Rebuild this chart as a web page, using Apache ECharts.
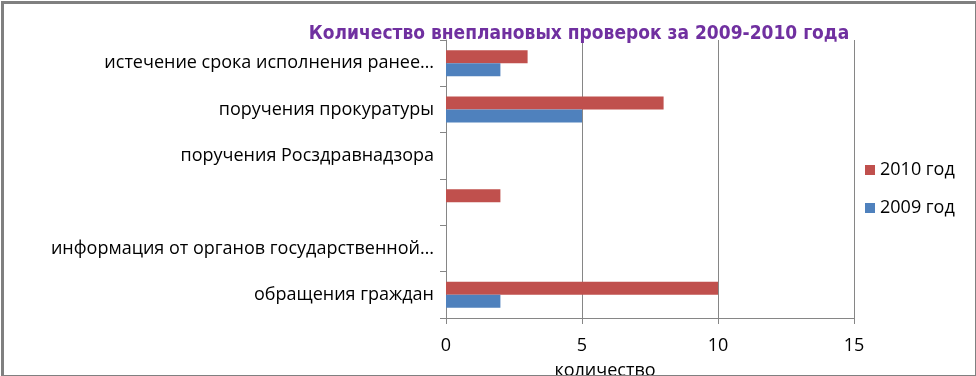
<!DOCTYPE html>
<html>
<head>
<meta charset="utf-8">
<script src="https://cdn.jsdelivr.net/npm/echarts@6/dist/echarts.min.js"></script>
<style>
  html, body { margin: 0; padding: 0; background: #fff; }
  #chart { width: 976px; height: 376px; }
</style>
</head>
<body>
<div id="chart"></div>
<script>
// категории снизу вверх, как на оси
let categories = [
  "обращения граждан",
  "информация от органов государственной…",
  "",
  "поручения Росздравнадзора",
  "поручения прокуратуры",
  "истечение срока исполнения ранее…",
];
let values2009 = [2, 0, 0, 0, 5, 2];
let values2010 = [10, 0, 2, 0, 8, 3];
let xTicks = { min: 0, max: 15, interval: 5 };

let font = "Open Sans";
let gridColor = "#868686";

let chart = echarts.init(document.getElementById("chart"));

let option = {
  animation: false,
  backgroundColor: "#fff",
  title: {
    text: "Количество внеплановых проверок за 2009-2010 года",
    left: 574,
    textAlign: "center",
    top: 20,
    textStyle: {
      color: "#7030A0",
      fontFamily: "DejaVu Sans Condensed",
      fontWeight: "bold",
      fontSize: 19,
    },
  },
  legend: {
    orient: "vertical",
    left: 860,
    top: 156,
    itemWidth: 10,
    itemHeight: 10,
    itemGap: 20,
    icon: "rect",
    data: ["2010 год", "2009 год"],
    textStyle: { fontFamily: font, fontSize: 18, color: "#000" },
  },
  grid: {
    left: 446,
    right: 122,
    top: 40,
    bottom: 58,
    containLabel: false,
    outerBoundsMode: "none",
  },
  xAxis: {
    type: "value",
    min: xTicks.min,
    max: xTicks.max,
    interval: xTicks.interval,
    name: "количество",
    nameLocation: "middle",
    nameGap: 44,
    nameTextStyle: {
      fontFamily: font,
      fontSize: 18,
      color: "#000",
      padding: [0, 90, 0, 0],
    },
    axisLine: { show: true, lineStyle: { color: gridColor, width: 1 } },
    axisTick: { show: true, length: 6, lineStyle: { color: gridColor } },
    axisLabel: {
      fontFamily: font,
      fontSize: 18,
      color: "#000",
      margin: 19,
    },
    splitLine: { show: true, lineStyle: { color: gridColor, width: 1 } },
  },
  yAxis: {
    type: "category",
    data: categories,
    axisLine: { show: true, lineStyle: { color: gridColor, width: 1 } },
    axisTick: { show: true, length: 6, lineStyle: { color: gridColor } },
    axisLabel: {
      fontFamily: font,
      fontSize: 18,
      color: "#000",
      margin: 12,
    },
    splitLine: { show: false },
  },
  series: [
    {
      name: "2010 год",
      type: "bar",
      data: values2010,
      barWidth: 13,
      barGap: "0%",
      itemStyle: { color: "#C0504D" },
    },
    {
      name: "2009 год",
      type: "bar",
      data: values2009,
      barWidth: 13,
      barGap: "0%",
      itemStyle: { color: "#4F81BD" },
    },
  ],
  graphic: [
    {
      type: "rect",
      left: 0,
      top: 0,
      shape: { width: 974, height: 374 },
      style: { fill: "none", stroke: "#808080", lineWidth: 3 },
      silent: true,
      z: 100,
    },
  ],
};

chart.setOption(option);
</script>
</body>
</html>
